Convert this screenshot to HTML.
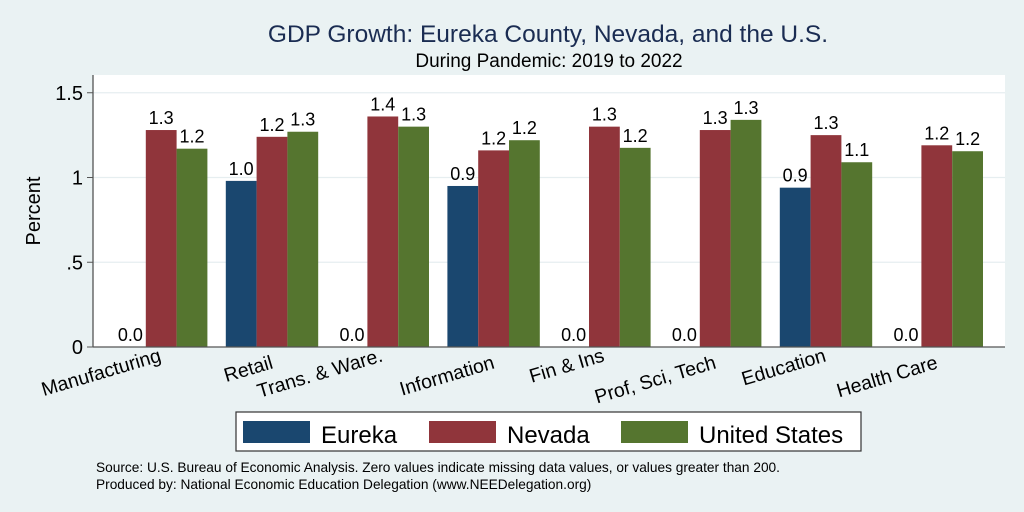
<!DOCTYPE html>
<html><head><meta charset="utf-8"><style>
body{margin:0;background:#eaf2f3;}
svg{display:block;font-family:"Liberation Sans",Arial,sans-serif;}
</style></head><body>
<svg id="c" width="1024" height="512" viewBox="0 0 1024 512">
<rect width="1024" height="512" fill="#eaf2f3"/>
<text x="548" y="42" text-anchor="middle" font-size="24.5" fill="#1a2c52">GDP Growth: Eureka County, Nevada, and the U.S.</text>
<text x="549" y="67" text-anchor="middle" font-size="19" fill="#000">During Pandemic: 2019 to 2022</text>
<rect x="93" y="75" width="912" height="272" fill="#fff"/>
<g id="grid"></g><g id="bars"></g><g id="xl"></g>
<line x1="93" y1="75" x2="93" y2="347" stroke="#555" stroke-width="1.3"/>
<line x1="93" y1="347" x2="1005" y2="347" stroke="#555" stroke-width="1.3"/>
<text transform="translate(40,211) rotate(-90)" text-anchor="middle" font-size="20">Percent</text>
<g>
<rect x="236" y="412" width="625" height="39" fill="#fff" stroke="#333" stroke-width="1.2"/>
<rect x="243" y="421" width="67" height="22" fill="#1a476f"/>
<text x="321" y="443" font-size="24">Eureka</text>
<rect x="429" y="421" width="67" height="22" fill="#90353b"/>
<text x="507" y="443" font-size="24">Nevada</text>
<rect x="621" y="421" width="67" height="22" fill="#55752f"/>
<text x="699" y="443" font-size="24">United States</text>
</g>
<text x="96" y="472" font-size="13.7">Source: U.S. Bureau of Economic Analysis. Zero values indicate missing data values, or values greater than 200.</text>
<text x="96" y="489" font-size="13.7">Produced by: National Economic Education Delegation (www.NEEDelegation.org)</text>
</svg>
<script>
const categories=["Manufacturing","Retail","Trans. & Ware.","Information","Fin & Ins","Prof, Sci, Tech","Education","Health Care"];
const eureka=[0,0.98,0,0.95,0,0,0.94,0];
const nevada=[1.28,1.24,1.36,1.16,1.30,1.28,1.25,1.19];
const us=[1.17,1.27,1.30,1.22,1.175,1.34,1.09,1.155];
const yTicks=[0,0.5,1,1.5];
const yTickLabels=["0",".5","1","1.5"];
const NS="http://www.w3.org/2000/svg";
const y=v=>347-v*169.5;
const gx=i=>115+i*110.8;
const bw=30.8;
function mk(t,a,p){const e=document.createElementNS(NS,t);for(const k in a)e.setAttribute(k,a[k]);p.appendChild(e);return e;}
const grid=document.getElementById('grid');
yTicks.forEach((t,i)=>{
  if(t>0){const l=mk('line',{x1:93,x2:1005,y1:y(t),y2:y(t),stroke:'#e6eef0','stroke-width':1.2},grid);
  
  }
  const tk=mk('line',{x1:87,x2:93,y1:y(t),y2:y(t),stroke:'#555'},grid);
  
  
  const tx=mk('text',{x:83,y:y(t)+7,'text-anchor':'end','font-size':20},grid);
  tx.textContent=yTickLabels[i];
  
  
});
const bars=document.getElementById('bars');
const series=[[eureka,'#1a476f','eureka'],[nevada,'#90353b','nevada'],[us,'#55752f','us']];
categories.forEach((c,i)=>{
  series.forEach((s,j)=>{
    const v=s[0][i];const x=gx(i)+j*bw;
    if(v>0){const r=mk('rect',{x:x,y:y(v),width:bw,height:347-y(v),fill:s[1]},bars);
    
    }
    const t=mk('text',{x:x+bw/2,y:y(v)-6,'text-anchor':'middle','font-size':18},bars);
    t.textContent=v.toFixed(1);
    
    
  });
  const xl=document.getElementById('xl');
  const ax=gx(i)+bw*1.5+(i%2?2:1), ay=(i%2?368:361);
  const t=mk('text',{x:0,y:0,'text-anchor':'end','font-size':19.5,transform:`translate(${ax},${ay}) rotate(-16.5)`},xl);
  t.textContent=c;
  
  
});
</script>
</body></html>
